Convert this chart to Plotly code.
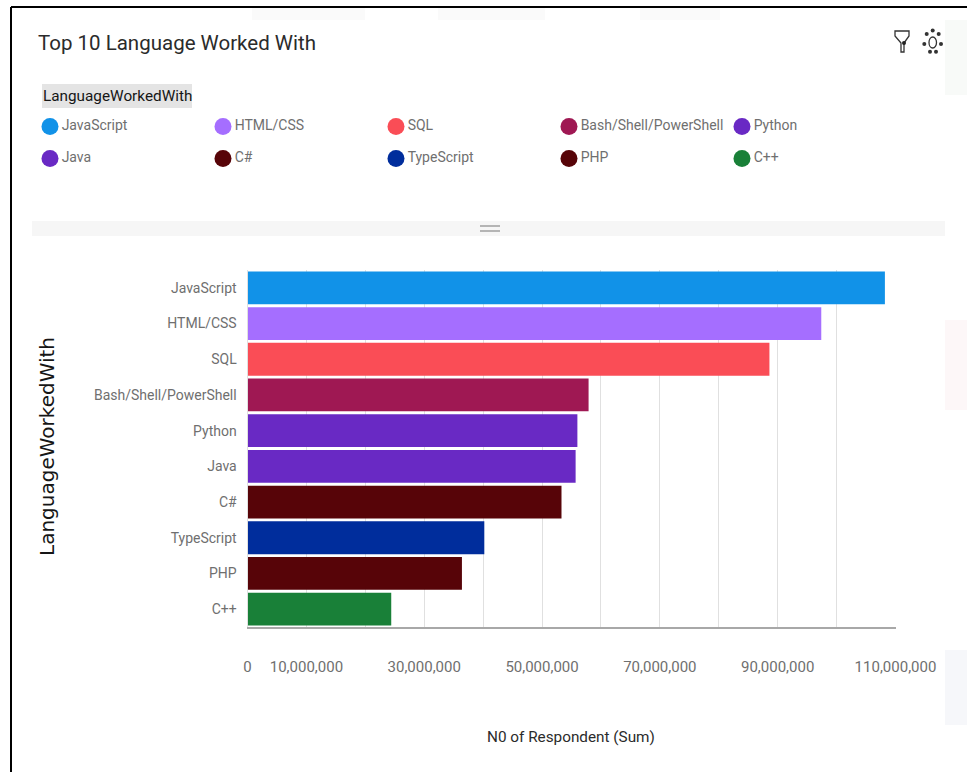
import plotly.graph_objects as go

W, H = 967, 772

languages = ["JavaScript", "HTML/CSS", "SQL", "Bash/Shell/PowerShell", "Python",
             "Java", "C#", "TypeScript", "PHP", "C++"]
respondents = [108200000, 97400000, 88600000, 57900000, 56000000,
               55700000, 53300000, 40200000, 36400000, 24400000]
colors = ["#1192e8", "#a56eff", "#fa4d56", "#9f1853", "#6929c4",
          "#6929c4", "#570408", "#002d9c", "#570408", "#198038"]
tick_values = [0, 10000000, 20000000, 30000000, 40000000, 50000000, 60000000,
               70000000, 80000000, 90000000, 100000000, 110000000]
tick_labels = ["0", "10,000,000", "", "30,000,000", "", "50,000,000", "",
               "70,000,000", "", "90,000,000", "", "110,000,000"]
legend_cols = [0, 1, 2, 3, 4, 0, 1, 2, 3, 4]
legend_rows = [0, 0, 0, 0, 0, 1, 1, 1, 1, 1]

FONT = "Roboto"
GREY = "#6f6f6f"


def px(x):
    return x / W


def py(y):
    return 1 - y / H


def box(x0, y0, x1, y1, fill):
    return dict(type="rect", xref="paper", yref="paper", x0=px(x0), x1=px(x1), y0=py(y0), y1=py(y1),
                fillcolor=fill, line=dict(width=0), layer="below")


fig = go.Figure()

fig.add_trace(go.Bar(
    y=languages, x=respondents, orientation="h",
    marker=dict(color=colors, line=dict(width=0)),
    showlegend=False, xaxis="x", yaxis="y",
))

fig.add_trace(go.Scatter(
    x=legend_cols, y=legend_rows, text=languages, mode="markers+text",
    textposition="middle right",
    textfont=dict(family=FONT, size=14, color=GREY),
    marker=dict(color=colors, size=17, line=dict(width=0)),
    showlegend=False, xaxis="x2", yaxis="y2", cliponaxis=False,
))

shapes = [
    box(945, 20, 967, 95, "#f8faf8"),
    box(945, 320, 967, 410, "#fdf7f8"),
    box(945, 650, 967, 725, "#f6f7fa"),
    box(252, 8, 365, 20, "#fafafa"),
    box(438, 8, 545, 20, "#fafafa"),
    box(640, 8, 720, 20, "#fafafa"),
    box(32, 221, 945, 236, "#f6f6f6"),
    box(42, 84, 192, 108, "#e4e4e4"),
    dict(type="line", xref="paper", yref="paper", x0=px(11), x1=px(11), y0=py(7), y1=py(772),
         line=dict(color="#000000", width=2)),
    dict(type="line", xref="paper", yref="paper", x0=px(11), x1=px(967), y0=py(7), y1=py(7),
         line=dict(color="#000000", width=2)),
    dict(type="line", xref="paper", yref="paper", x0=px(480), x1=px(500), y0=py(226), y1=py(226),
         line=dict(color="#b5b5b5", width=2)),
    dict(type="line", xref="paper", yref="paper", x0=px(480), x1=px(500), y0=py(231), y1=py(231),
         line=dict(color="#b5b5b5", width=2)),
]

annotations = [
    dict(text="Top 10 Language Worked With", x=px(36), y=py(43), xref="paper", yref="paper",
         xanchor="left", yanchor="middle", showarrow=False,
         font=dict(family=FONT, size=20.5, color="#2b2b2b")),
    dict(text="LanguageWorkedWith", x=px(117), y=py(96), xref="paper", yref="paper",
         xanchor="center", yanchor="middle", showarrow=False,
         font=dict(family=FONT, size=15.3, color="#161616")),
    dict(text="LanguageWorkedWith", x=px(47), y=py(447), xref="paper", yref="paper",
         xanchor="center", yanchor="middle", showarrow=False, textangle=-90,
         font=dict(family="DejaVu Sans", size=20, color="#161616")),
    dict(text="N0 of Respondent (Sum)", x=px(571), y=py(737), xref="paper", yref="paper",
         xanchor="center", yanchor="middle", showarrow=False,
         font=dict(family=FONT, size=15.3, color="#2b2b2b")),
]

fig.update_layout(
    width=W, height=H, margin=dict(l=0, r=0, t=0, b=0),
    paper_bgcolor="#ffffff", plot_bgcolor="#ffffff",
    font=dict(family=FONT, color=GREY),
    showlegend=False, bargap=0.08,
    shapes=shapes, annotations=annotations,
    xaxis=dict(
        domain=[px(247.5), px(895.5)], range=[0, 110000000],
        tickvals=tick_values, ticktext=tick_labels, tickangle=0,
        tickfont=dict(family=FONT, size=15, color=GREY), ticks="outside", ticklen=25,
        tickcolor="rgba(0,0,0,0)", showgrid=True, gridcolor="#e0e0e0", gridwidth=1,
        showline=True, linecolor="#a8a8a8", linewidth=1.5, zeroline=False,
        anchor="y", fixedrange=True, automargin=False,
    ),
    yaxis=dict(
        domain=[py(627), py(270)], categoryorder="array", categoryarray=languages[::-1],
        tickfont=dict(family=FONT, size=14, color=GREY), ticks="outside", ticklen=7,
        tickcolor="rgba(0,0,0,0)", showgrid=False, showline=True, linecolor="#e0e0e0",
        linewidth=1, anchor="x", fixedrange=True, automargin=False,
    ),
    xaxis2=dict(
        domain=[0, 1], range=[-50 / 173, (W - 50) / 173], visible=False,
        anchor="y2", fixedrange=True,
    ),
    yaxis2=dict(
        domain=[py(205), 1], range=[(205 - 126.5) / 32, -126.5 / 32], visible=False,
        anchor="x2", fixedrange=True,
    ),
)

# Filter icon
fig.add_shape(type="path", xref="paper", yref="paper",
              path=f"M {px(895)} {py(31)} L {px(909)} {py(31)} L {px(909)} {py(36)} L {px(904)} {py(43)} "
                   f"L {px(904)} {py(52)} L {px(901)} {py(52)} L {px(901)} {py(43)} L {px(895)} {py(36)} Z",
              line=dict(color="#333333", width=1.3), fillcolor="#ffffff")
fig.add_shape(type="circle", xref="paper", yref="paper", x0=px(902), x1=px(906), y0=py(41), y1=py(45),
              line=dict(width=0), fillcolor="#222222")
# Settings icon
for cx, cy in [(932.7, 30.5), (926.7, 34), (938.7, 34), (924.3, 44), (941, 44), (930, 51.7), (936, 51.7)]:
    fig.add_shape(type="circle", xref="paper", yref="paper",
                  x0=px(cx - 2), x1=px(cx + 2), y0=py(cy - 2), y1=py(cy + 2),
                  line=dict(width=0), fillcolor="#333333")
fig.add_shape(type="circle", xref="paper", yref="paper", x0=px(929), x1=px(936.5), y0=py(37), y1=py(48),
              line=dict(color="#333333", width=1.3), fillcolor="#ffffff")

fig.write_html("out.html", post_script="document.body.style.margin='0';", config=dict(displayModeBar=False))
